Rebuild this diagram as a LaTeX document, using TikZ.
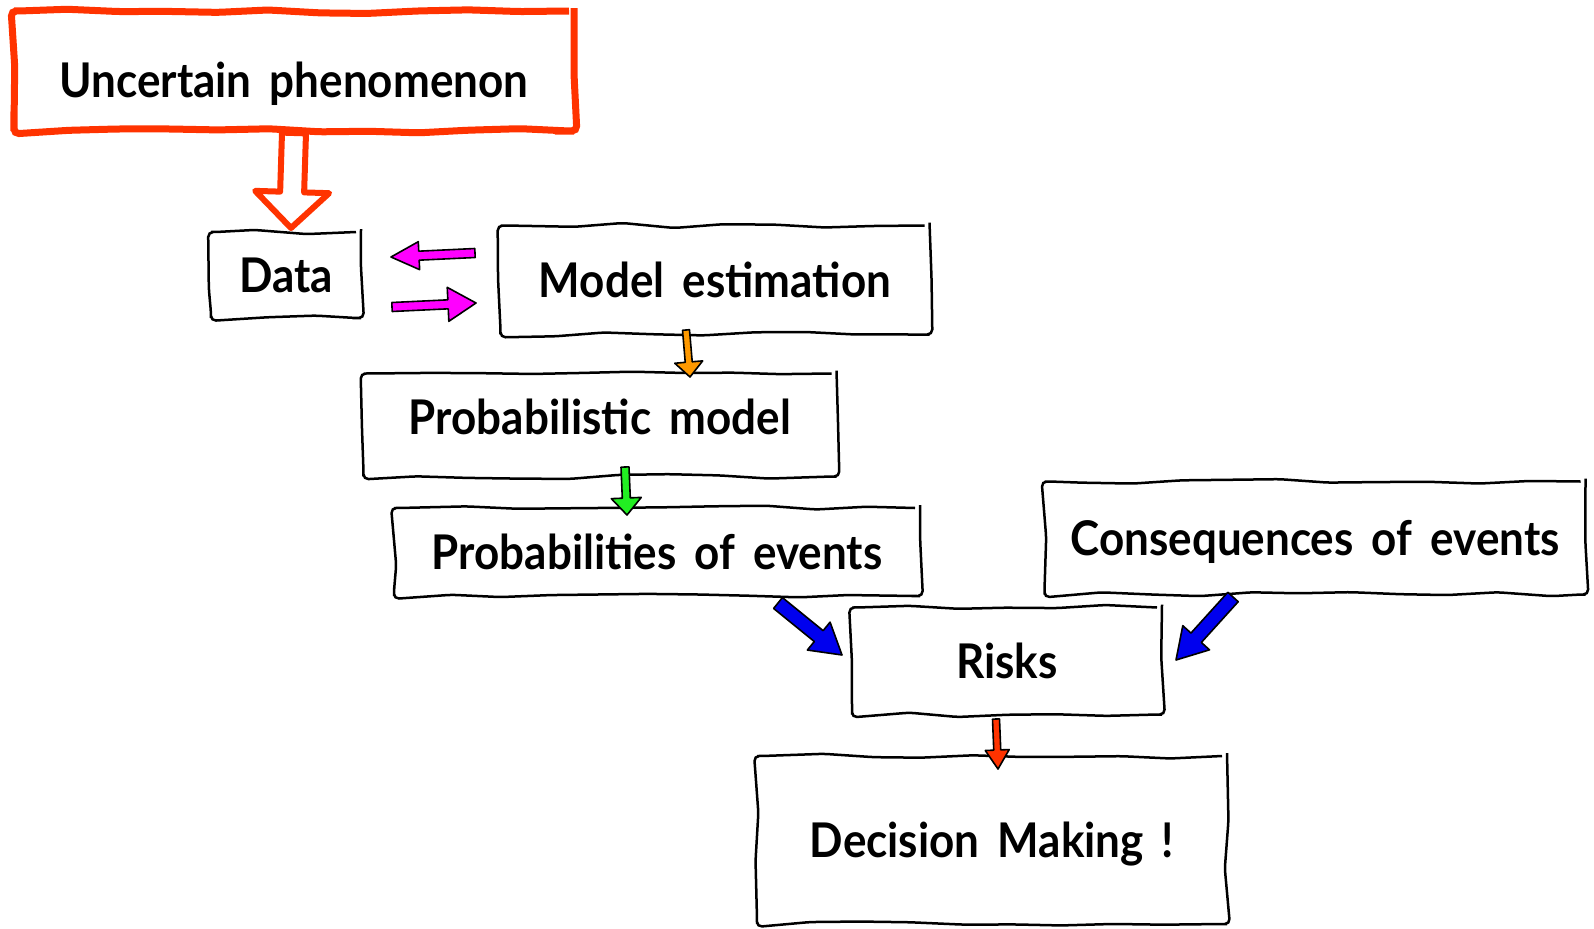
\documentclass[tikz,border=0pt]{standalone}
\usepackage{fontspec}
\setmainfont{Lato}[FakeStretch=0.92, WordSpace=1.7]
\usetikzlibrary{calc,decorations.pathmorphing}
\definecolor{redor}{HTML}{FF3300}
\definecolor{magentaA}{HTML}{FF00FF}
\definecolor{orangeA}{HTML}{FF9900}
\definecolor{greenA}{HTML}{22EE22}
\definecolor{blueA}{HTML}{0000EE}
\tikzset{
  sketch/.style={draw=black, line width=2.5bp, decorate,
    decoration={random steps, segment length=50bp, amplitude=2.5bp},
    rounded corners=5bp, inner sep=0pt, fill=white,
    text height=35bp, text depth=0pt,
    font=\fontsize{48}{56}\selectfont\bfseries},
  redbox/.style={sketch, draw=redor, line width=7bp},
  fatline/.style={draw=black, line width=1.6bp, line join=round},
}
% fat arrow polygon: #1 style, #2 start, #3 tip, #4 shaft half width, #5 head half width, #6 head length
\newcommand{\fatarrow}[6][]{%
  \coordinate (fahead) at ($(#3)!#6!(#2)$);
  \path[fatline,#1]
    ($(#2)!#4!90:(#3)$) -- ($(fahead)!#4!-90:(#2)$) -- ($(fahead)!#5!-90:(#2)$)
    -- (#3) -- ($(fahead)!#5!90:(#2)$) -- ($(fahead)!#4!90:(#2)$)
    -- ($(#2)!#4!-90:(#3)$) -- cycle;}
\pgfmathsetseed{7}
\begin{document}
\begin{tikzpicture}[x=1bp,y=-1bp]
\useasboundingbox[fill=white] (0,0) rectangle (1594,928);

\node[redbox, minimum width=560bp, minimum height=120bp, text height=52bp] (unc) at (294,71) {Uncertain phenomenon};
\node[sketch, minimum width=150bp, minimum height=86bp] (data) at (286,275) {Data};
\node[sketch, minimum width=429bp, minimum height=109bp] (model) at (715,280) {Model estimation};
\node[sketch, minimum width=473bp, minimum height=103bp, text depth=16bp] (prob) at (600,425) {Probabilistic model};
\node[sketch, minimum width=526bp, minimum height=88bp] (pev) at (657,552) {Probabilities of events};
\node[sketch, minimum width=541bp, minimum height=113bp] (cons) at (1315,538) {Consequences of events};
\node[sketch, minimum width=310bp, minimum height=107bp] (risks) at (1007,661) {Risks};
\node[sketch, minimum width=470bp, minimum height=168bp] (dec) at (992,840) {Decision Making !};

% arrow end points
\coordinate (r1a) at (294,133);  \coordinate (r1b) at (291,228);
\coordinate (m1a) at (475,253);  \coordinate (m1b) at (391,257);
\coordinate (m2a) at (392,307);  \coordinate (m2b) at (476,303);
\coordinate (o1a) at (686,330);  \coordinate (o1b) at (690,377);
\coordinate (g1a) at (625,467);  \coordinate (g1b) at (627,515);
\coordinate (b1a) at (778,603);  \coordinate (b1b) at (842,655);
\coordinate (b2a) at (1233,597); \coordinate (b2b) at (1176,660);
\coordinate (s1a) at (996,719);  \coordinate (s1b) at (998,769);

\fatarrow[fill=white, draw=redor, line width=6bp]{r1a}{r1b}{12bp}{37bp}{36bp}
\fatarrow[fill=magentaA]{m1a}{m1b}{4.5bp}{14bp}{28bp}
\fatarrow[fill=magentaA]{m2a}{m2b}{4.5bp}{17bp}{28bp}
\fatarrow[fill=orangeA]{o1a}{o1b}{3.5bp}{14bp}{15bp}
\fatarrow[fill=greenA]{g1a}{g1b}{4bp}{15bp}{17bp}
\fatarrow[fill=blueA]{b1a}{b1b}{7bp}{18bp}{30bp}
\fatarrow[fill=blueA]{b2a}{b2b}{7bp}{18bp}{30bp}
\fatarrow[fill=redor]{s1a}{s1b}{3.5bp}{12bp}{19bp}
\end{tikzpicture}
\end{document}
